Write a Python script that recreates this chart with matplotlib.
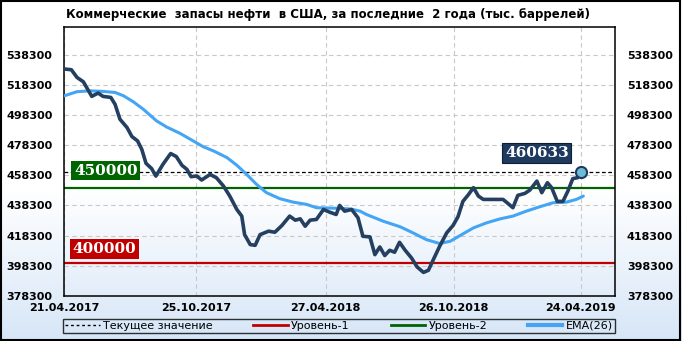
import numpy as np
import matplotlib.pyplot as plt
from matplotlib.lines import Line2D
from matplotlib.patches import Rectangle


# =========================================================
# DATA (days since 21.04.2017, thousand barrels)
# =========================================================

stock_days = [0, 10, 18, 27, 39, 48, 55, 66, 72, 79, 89, 96, 104, 110, 116,
              124, 130, 140, 151, 159, 167, 174, 180, 188, 195, 207, 216, 226,
              235, 245, 252, 256, 264, 271, 278, 290, 299, 309, 320, 328, 335,
              342, 349, 358, 368, 377, 386, 391, 398, 408, 417, 424, 434, 441,
              448, 455, 462, 469, 476, 484, 493, 501, 510, 517, 524, 533, 543,
              552, 559, 566, 574, 581, 588, 595, 609, 623, 630, 637, 644, 654,
              661, 671, 678, 686, 692, 700, 708, 715, 722, 729, 733]
stock_vals = [529000, 528500, 523400, 520500, 510800, 513000, 510800, 510100,
              505600, 495600, 490100, 484100, 481200, 475600, 466300, 462800,
              457800, 465600, 472800, 470800, 465000, 462300, 457400, 457900,
              455200, 458900, 456700, 451200, 444500, 435600, 431200, 418900,
              412300, 411800, 418900, 421200, 420500, 425000, 431200, 428500,
              429400, 424500, 428500, 429000, 435600, 433800, 432300, 438300,
              434500, 435600, 430100, 417800, 417400, 405600, 410700, 405000,
              408500, 407200, 413800, 408500, 403400, 397400, 393800, 395200,
              402300, 411200, 420100, 425000, 430800, 441000, 445600, 450100,
              444500, 442300, 442300, 442300, 439600, 436800, 445000, 446300,
              448500, 454500, 446800, 453400, 450100, 441000, 441000, 447800,
              456100, 456800, 460633]

ema_days = [0, 18, 37, 55, 72, 84, 98, 112, 131, 145, 164, 183, 197, 212, 231,
            245, 259, 273, 287, 306, 325, 344, 358, 382, 406, 420, 429, 453,
            477, 495, 514, 533, 548, 562, 581, 600, 619, 637, 656, 675, 694,
            713, 727, 737]
ema_vals = [511200, 513900, 514500, 514100, 513400, 511200, 507200, 502300,
            494500, 490500, 486300, 481200, 477400, 474500, 470100, 465000,
            458900, 452300, 446800, 442800, 440500, 439000, 436800, 436500,
            436000, 434500, 432300, 427800, 424100, 420100, 415600, 413000,
            414500, 418300, 423400, 426800, 429400, 431200, 434500, 437400,
            440100, 440500, 442300, 444500]

current_value = 460633
level_1 = 400000
level_2 = 450000

date_ticks = [0, 187, 371, 553, 733]
date_labels = ["21.04.2017", "25.10.2017", "27.04.2018", "26.10.2018", "24.04.2019"]

title = "Коммерческие  запасы нефти  в США, за последние  2 года (тыс. баррелей)"


# =========================================================
# FIGURE + GRADIENT BACKGROUND
# =========================================================

fig = plt.figure(figsize=(6.82, 3.41), dpi=100)

bg = fig.add_axes([0, 0, 1, 1], zorder=-5)
rows = 341
t = np.clip((np.arange(rows) - 190) / (rows - 190), 0, 1)
top = np.array([1.0, 1.0, 1.0])
bottom = np.array([0.84, 0.90, 0.97])
grad = top[None, :] * (1 - t[:, None]) + bottom[None, :] * t[:, None]
bg.imshow(grad[:, None, :], aspect="auto", extent=[0, 1, 0, 1])
bg.axis("off")

fig.patches.append(Rectangle((0.002, 0.004), 0.995, 0.993, transform=fig.transFigure,
                             fill=False, edgecolor="black", linewidth=1.5))

ax = fig.add_axes([0.0943, 0.1328, 0.8075, 0.7871])
ax.set_facecolor("none")

# -----------------------------------------------------
# Lines
# -----------------------------------------------------

ax.axhline(level_1, color="#c00000", lw=1.6, zorder=2)
ax.axhline(level_2, color="#006400", lw=1.6, zorder=2)
ax.axhline(current_value, color="black", lw=0.9, ls=(0, (3, 2)), zorder=2)

ax.plot(ema_days, ema_vals, color="#45a5f5", lw=2.2, zorder=3,
        solid_joinstyle="round", solid_capstyle="round")
ax.plot(stock_days, stock_vals, color="#243f5f", lw=2.6, zorder=4,
        solid_joinstyle="round", solid_capstyle="round")
ax.plot(stock_days[-1], stock_vals[-1], "o", ms=8, mfc="#6cbcd6",
        mec="#1f3a5f", mew=1.5, zorder=5)

# -----------------------------------------------------
# Value labels
# -----------------------------------------------------

lab_font = dict(family="DejaVu Serif", weight="bold", size=11, color="white")
ax.text(59, 461500, f"{level_2}", ha="center", va="center", zorder=6,
        bbox=dict(boxstyle="square,pad=0.18", fc="#006400", ec="none"), **lab_font)
ax.text(57, 409500, f"{level_1}", ha="center", va="center", zorder=6,
        bbox=dict(boxstyle="square,pad=0.18", fc="#c00000", ec="none"), **lab_font)
ax.text(671, 473200, f"{current_value}", ha="center", va="center", zorder=6,
        bbox=dict(boxstyle="square,pad=0.18", fc="#1f3a5f", ec="#0d1f33", lw=0.8),
        **lab_font)

# -----------------------------------------------------
# Axes
# -----------------------------------------------------

ax.set_xlim(0, 782)
ax.set_ylim(378300, 556700)
yt = np.arange(378300, 538301, 20000)
ax.set_yticks(yt)
ax.set_yticklabels([str(v) for v in yt])
ax.set_xticks(date_ticks)
ax.set_xticklabels(date_labels)

ax.tick_params(axis="y", length=0, labelsize=8, labelright=True, pad=8.5)
ax.tick_params(axis="y", which="major", right=False)
ax.tick_params(axis="x", length=0, labelsize=8, pad=5)
for lbl in ax.get_xticklabels() + ax.get_yticklabels():
    lbl.set_fontweight("bold")
for lbl in ax.yaxis.get_ticklabels(which="major"):
    lbl.set_fontweight("bold")
for tl in ax.yaxis.get_major_ticks():
    tl.label2.set_fontweight("bold")
    tl.label2.set_fontsize(8)

ax.grid(True, color="#c8c8c8", lw=0.8, ls=(0, (4, 3)))
ax.set_axisbelow(True)
for s in ax.spines.values():
    s.set_linewidth(1.1)
    s.set_color("black")

fig.text(0.481, 0.958, title, ha="center", va="center",
         fontsize=8.5, fontweight="bold")

# -----------------------------------------------------
# Legend
# -----------------------------------------------------

handles = [
    Line2D([], [], color="black", lw=1, ls=(0, (2, 2))),
    Line2D([], [], color="#c00000", lw=2),
    Line2D([], [], color="#006400", lw=2),
    Line2D([], [], color="#45a5f5", lw=3),
]
names = ["Текущее значение", "Уровень-1", "Уровень-2", "EMA(26)"]
leg = fig.legend(handles, names, loc="center", ncol=4, mode="expand",
                 bbox_to_anchor=(0.0924, 0.0235, 0.8094, 0.041),
                 fontsize=8, frameon=True, fancybox=False, borderpad=0.2,
                 handlelength=3.1, handletextpad=0.3, borderaxespad=0)
leg.get_frame().set_edgecolor("black")
leg.get_frame().set_linewidth(1)
leg.get_frame().set_facecolor("none")

plt.savefig("out.png", dpi=100)
